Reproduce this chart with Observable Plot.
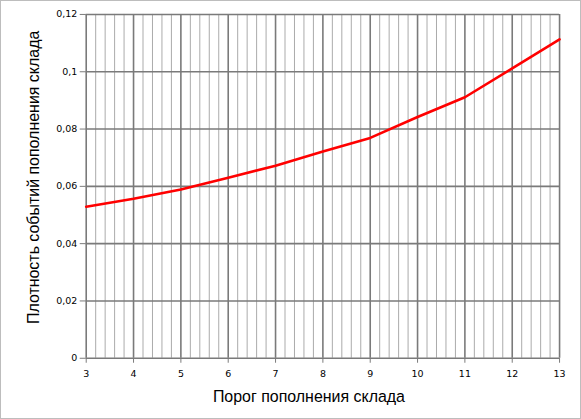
<!DOCTYPE html>
<html>
<head>
<meta charset="utf-8">
<script src="https://cdn.jsdelivr.net/npm/d3@7"></script>
<script src="https://cdn.jsdelivr.net/npm/@observablehq/plot@0.6"></script>
<style>
  html, body { margin: 0; padding: 0; background: #fff; }
  #chart { position: relative; width: 579px; height: 417px; border: 1px solid #bdbdbd; overflow: hidden; }
  #chart svg { position: absolute; left: -1px; top: -1px; }
</style>
</head>
<body>
<div id="chart"></div>
<script>
const thresholds = [3, 4, 5, 6, 7, 8, 9, 10, 11, 12, 13];
const density = [0.0529, 0.0557, 0.0589, 0.0630, 0.0672, 0.0722, 0.0769, 0.0842, 0.0911, 0.1012, 0.1113];
const xTicks = [3, 4, 5, 6, 7, 8, 9, 10, 11, 12, 13];
const yTicks = [0, 0.02, 0.04, 0.06, 0.08, 0.1, 0.12];
const xLabel = "Порог пополнения склада";
const yLabel = "Плотность событий пополнения склада";

const data = thresholds.map((x, i) => ({x, y: density[i]}));
const minorX = d3.range(0, 51).map(i => 3 + i * 0.2).filter(v => Math.abs(v - Math.round(v)) > 1e-6);
const fmt = d => d === 0 ? "0" : String(+d.toFixed(2)).replace(".", ",");

const chart = Plot.plot({
  width: 581,
  height: 419,
  marginLeft: 86,
  marginRight: 20,
  marginTop: 14,
  marginBottom: 60,
  style: {fontFamily: "DejaVu Sans, Verdana, sans-serif", fontSize: "9.5px", color: "#000", background: "transparent"},
  x: {domain: [3, 13]},
  y: {domain: [0, 0.12]},
  marks: [
    Plot.ruleX(minorX, {stroke: "#ababab", strokeWidth: 1}),
    Plot.ruleX(xTicks, {stroke: "#7a7a7a", strokeWidth: 1.6}),
    Plot.ruleY(yTicks, {stroke: "#7a7a7a", strokeWidth: 1.6}),
    Plot.axisX({ticks: xTicks, tickFormat: d => String(d), tickSize: 5, tickPadding: 7, stroke: "#7a7a7a", label: null}),
    Plot.axisY({ticks: yTicks, tickFormat: fmt, tickSize: 6, tickPadding: 3, stroke: "#7a7a7a", label: null}),
    Plot.line(data, {x: "x", y: "y", stroke: "#ff0000", strokeWidth: 2.6}),
    Plot.text([xLabel], {frameAnchor: "bottom", dy: 44, dx: -14, fontSize: 16, fontFamily: "Liberation Sans, Arial, sans-serif", fill: "#000"}),
    Plot.text([yLabel], {frameAnchor: "left", textAnchor: "middle", dx: -53, dy: -9, rotate: -90, fontSize: 16, fontFamily: "Liberation Sans, Arial, sans-serif", fill: "#000"})
  ]
});
document.getElementById("chart").appendChild(chart);
</script>
</body>
</html>
